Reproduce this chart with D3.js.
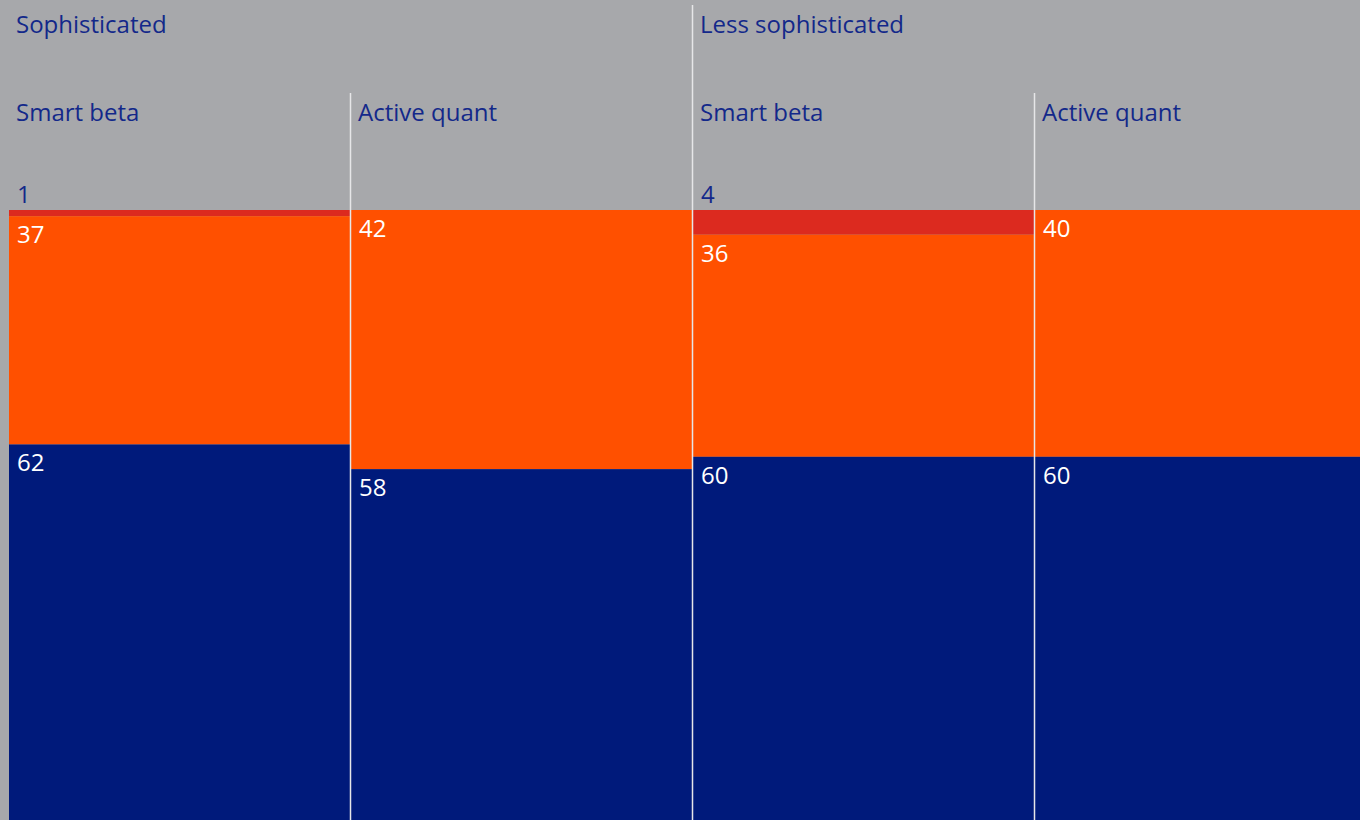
<!DOCTYPE html>
<html><head><meta charset="utf-8">
<script src="https://cdn.jsdelivr.net/npm/d3@7"></script>
<style>
html,body{margin:0;padding:0;background:#a7a8ab;overflow:hidden}
svg{display:block}
text{font-family:"Open Sans",sans-serif}
</style></head>
<body>
<svg id="c" width="1360" height="820"></svg>
<script>
// Data
const groups = ["Sophisticated", "Less sophisticated"];
const columns = ["Smart beta", "Active quant", "Smart beta", "Active quant"];
const columnGroup = [0, 0, 1, 1];
const seriesNames = ["Red", "Orange", "Navy"];
const redValues = [1, 0, 4, 0];
const orangeValues = [37, 42, 36, 40];
const navyValues = [62, 58, 60, 60];

const colors = ["#dc2a1f", "#ff5000", "#001a7b"];
const W = 1360, H = 820;
const svg = d3.select("#c");
svg.append("rect").attr("width", W).attr("height", H).attr("fill", "#a7a8ab");

const table = columns.map((c, i) => ({ idx: i, Red: redValues[i], Orange: orangeValues[i], Navy: navyValues[i] }));
const stack = d3.stack().keys(seriesNames)(table);

const x = d3.scaleBand().domain(d3.range(columns.length)).range([9, 9 + 342 * 4]).paddingInner(0);
const y = d3.scaleLinear().domain([0, 100]).range([210, 827]);

const textColor = "#13288a";
const fs = 24;

// bars
stack.forEach((s, si) => {
  svg.append("g").selectAll("rect").data(s).join("rect")
    .attr("x", d => x(d.data.idx))
    .attr("width", x.bandwidth())
    .attr("y", d => y(d[0]))
    .attr("height", d => y(d[1]) - y(d[0]))
    .attr("fill", colors[si]);
});

// value labels
stack.forEach((s, si) => {
  s.forEach(d => {
    const v = d[1] - d[0];
    if (v <= 0) return;
    const small = v < 5;
    svg.append("text")
      .attr("x", x(d.data.idx) + 8)
      .attr("y", small ? y(d[0]) - 7 : y(d[0]) + 27)
      .attr("fill", small ? textColor : "#ffffff")
      .attr("font-size", fs)
      .text(v);
  });
});

// separators
columns.forEach((c, i) => {
  if (i === 0) return;
  const top = columnGroup[i] !== columnGroup[i - 1] ? 5 : 93;
  svg.append("line")
    .attr("x1", x(i) - 0.5).attr("x2", x(i) - 0.5)
    .attr("y1", top).attr("y2", H)
    .attr("stroke", "#e6e6e8").attr("stroke-width", 1.5);
});

// group headers
groups.forEach((g, gi) => {
  const first = columnGroup.indexOf(gi);
  svg.append("text").attr("x", x(first) + 7).attr("y", 33)
    .attr("fill", textColor).attr("font-size", fs).text(g);
});
// column headers
columns.forEach((c, i) => {
  svg.append("text").attr("x", x(i) + 7).attr("y", 121)
    .attr("fill", textColor).attr("font-size", fs).text(c);
});
</script>
</body></html>
